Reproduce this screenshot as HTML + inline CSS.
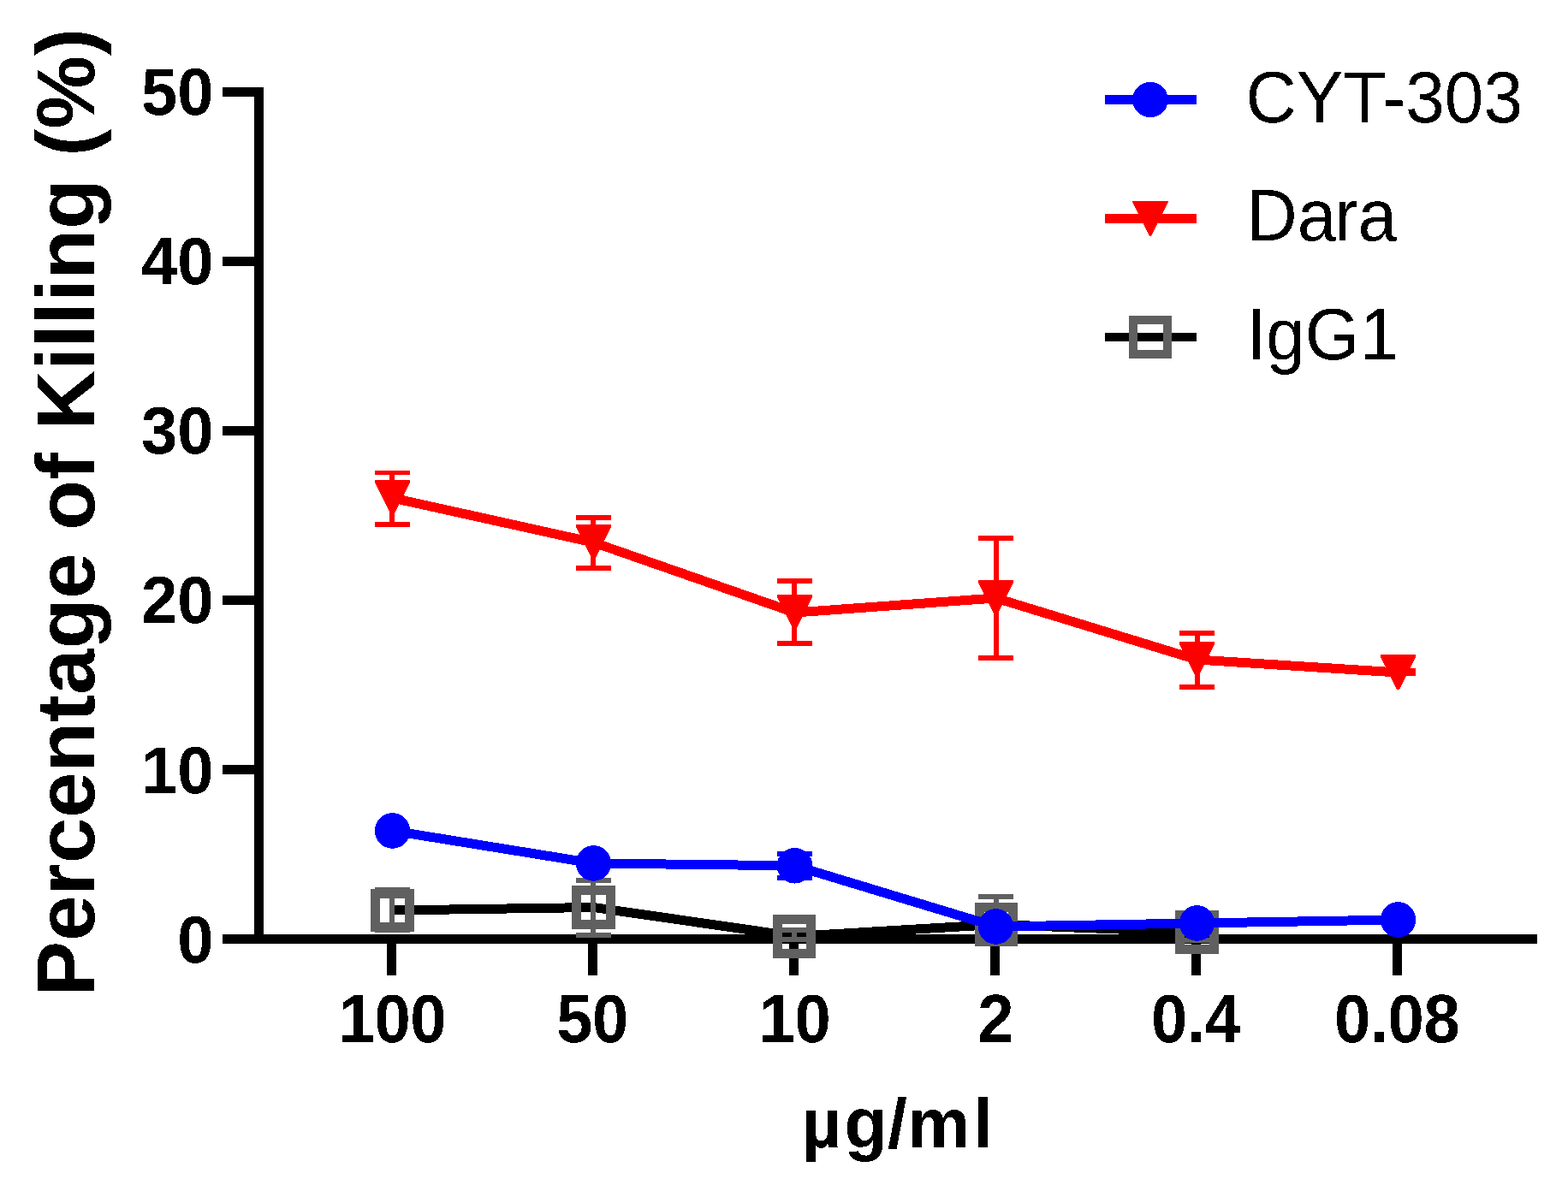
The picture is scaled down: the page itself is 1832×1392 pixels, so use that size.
<!DOCTYPE html>
<html lang="en">
<head>
<meta charset="utf-8">
<title>Percentage of Killing</title>
<style>
html,body{margin:0;padding:0;background:#fff;}
body{width:1832px;height:1392px;overflow:hidden;}
svg{display:block;}
</style>
</head>
<body>
<svg width="1832" height="1392" viewBox="0 0 1832 1392">
<rect width="1832" height="1392" fill="#ffffff"/>
<g shape-rendering="crispEdges">
<rect x="297" y="102" width="11" height="1001" fill="#000000"/>
<rect x="260" y="1092" width="1536" height="11" fill="#000000"/>
<rect x="260" y="894" width="48" height="11" fill="#000000"/>
<rect x="260" y="696" width="48" height="11" fill="#000000"/>
<rect x="260" y="498" width="48" height="11" fill="#000000"/>
<rect x="260" y="300" width="48" height="11" fill="#000000"/>
<rect x="260" y="102" width="48" height="11" fill="#000000"/>
<rect x="452" y="1103" width="11" height="37" fill="#000000"/>
<rect x="687" y="1103" width="11" height="37" fill="#000000"/>
<rect x="922" y="1103" width="11" height="37" fill="#000000"/>
<rect x="1157" y="1103" width="11" height="37" fill="#000000"/>
<rect x="1392" y="1103" width="11" height="37" fill="#000000"/>
<rect x="1627" y="1103" width="11" height="37" fill="#000000"/>
<polyline points="458.5,1064 693.5,1060.5 928.5,1094.4 1163.5,1080.5 1398.5,1089.5" fill="none" stroke="#000000" stroke-width="11" stroke-linejoin="round" stroke-linecap="butt"/>
<rect x="455" y="1037" width="6" height="53" fill="#606060"/>
<rect x="438" y="1037" width="41" height="6" fill="#606060"/>
<rect x="438" y="1084" width="41" height="6" fill="#606060"/>
<rect x="690" y="1026" width="6" height="70" fill="#606060"/>
<rect x="673" y="1026" width="41" height="6" fill="#606060"/>
<rect x="673" y="1090" width="41" height="6" fill="#606060"/>
<rect x="925" y="1084" width="6" height="17" fill="#606060"/>
<rect x="908" y="1084" width="41" height="6" fill="#606060"/>
<rect x="908" y="1095" width="41" height="6" fill="#606060"/>
<rect x="1161" y="1045" width="6" height="40" fill="#606060"/>
<rect x="1143" y="1045" width="41" height="6" fill="#606060"/>
<rect x="1396" y="1077" width="6" height="25" fill="#606060"/>
<rect x="1378" y="1077" width="41" height="6" fill="#606060"/>
<rect x="1378" y="1096" width="41" height="6" fill="#606060"/>
<rect x="438.5" y="1044.5" width="40" height="39" fill="none" stroke="#606060" stroke-width="11"/>
<rect x="673.5" y="1040.5" width="40" height="40" fill="none" stroke="#606060" stroke-width="11"/>
<rect x="908.5" y="1074.5" width="39" height="40" fill="none" stroke="#606060" stroke-width="11"/>
<rect x="1144.5" y="1060.5" width="39" height="40" fill="none" stroke="#606060" stroke-width="11"/>
<rect x="1378.5" y="1069.5" width="40" height="40" fill="none" stroke="#606060" stroke-width="11"/>
<polyline points="458.5,582 693.5,634 928.5,716 1163.5,699 1398.5,771 1633.5,786" fill="none" stroke="#ff0000" stroke-width="11" stroke-linejoin="round" stroke-linecap="butt"/>
<rect x="455" y="550" width="6" height="66" fill="#ff0000"/>
<rect x="438" y="550" width="41" height="5" fill="#ff0000"/>
<rect x="438" y="610" width="41" height="6" fill="#ff0000"/>
<rect x="690" y="602" width="6" height="65" fill="#ff0000"/>
<rect x="673" y="602" width="41" height="6" fill="#ff0000"/>
<rect x="673" y="661" width="41" height="6" fill="#ff0000"/>
<rect x="925" y="676" width="6" height="79" fill="#ff0000"/>
<rect x="908" y="676" width="41" height="6" fill="#ff0000"/>
<rect x="908" y="749" width="41" height="6" fill="#ff0000"/>
<rect x="1161" y="626" width="6" height="146" fill="#ff0000"/>
<rect x="1143" y="626" width="41" height="6" fill="#ff0000"/>
<rect x="1143" y="766" width="41" height="6" fill="#ff0000"/>
<rect x="1396" y="737" width="6" height="69" fill="#ff0000"/>
<rect x="1378" y="737" width="41" height="6" fill="#ff0000"/>
<rect x="1378" y="800" width="41" height="6" fill="#ff0000"/>
<rect x="1613" y="781" width="41" height="9" fill="#ff0000"/>
<polygon points="438,561 479,561 479,563.5 460,602 457,602 438,563.5" fill="#ff0000"/>
<polygon points="673,613 714,613 714,615.5 695,654 692,654 673,615.5" fill="#ff0000"/>
<polygon points="908,695 949,695 949,697.5 930,736 927,736 908,697.5" fill="#ff0000"/>
<polygon points="1143,678 1184,678 1184,680.5 1165,719 1162,719 1143,680.5" fill="#ff0000"/>
<polygon points="1378,750 1419,750 1419,752.5 1400,791 1397,791 1378,752.5" fill="#ff0000"/>
<polygon points="1613,765 1654,765 1654,767.5 1635,806 1632,806 1613,767.5" fill="#ff0000"/>
<polyline points="458.5,971 693.5,1009 928.5,1011.8 1163.5,1083 1398.5,1079 1633.5,1075" fill="none" stroke="#0000ff" stroke-width="11" stroke-linejoin="round" stroke-linecap="butt"/>
<rect x="925" y="995" width="6" height="34" fill="#0000ff"/>
<rect x="908" y="995" width="41" height="6" fill="#0000ff"/>
<rect x="908" y="1023" width="41" height="6" fill="#0000ff"/>
<circle cx="458.5" cy="971" r="20.8" fill="#0000ff"/>
<circle cx="693.5" cy="1009" r="20.8" fill="#0000ff"/>
<circle cx="928.5" cy="1011.8" r="20.8" fill="#0000ff"/>
<circle cx="1163.5" cy="1083" r="20.8" fill="#0000ff"/>
<circle cx="1398.5" cy="1079" r="20.8" fill="#0000ff"/>
<circle cx="1633.5" cy="1075" r="20.8" fill="#0000ff"/>
<rect x="1291" y="111" width="107" height="11" fill="#0000ff"/>
<circle cx="1344" cy="116.5" r="20.8" fill="#0000ff"/>
<rect x="1291" y="250" width="107" height="11" fill="#ff0000"/>
<polygon points="1322.8,235 1365.2,235 1365.2,235.5 1344.8,276.2 1343.2,276.2 1322.8,235.5" fill="#ff0000"/>
<rect x="1291" y="389" width="107" height="10" fill="#000000"/>
<rect x="1324" y="374" width="40" height="40" fill="none" stroke="#606060" stroke-width="10"/>
</g>
<defs><filter id="crisp" x="0" y="0" width="100%" height="100%" filterUnits="userSpaceOnUse" primitiveUnits="userSpaceOnUse" color-interpolation-filters="sRGB"><feComponentTransfer><feFuncA type="discrete" tableValues="0 1"/></feComponentTransfer></filter></defs>
<g font-family="'Liberation Sans', sans-serif" fill="#000" filter="url(#crisp)">
<text transform="translate(249.6 1125) scale(1 1.035)" font-size="76" font-weight="bold" text-anchor="end">0</text>
<text transform="translate(249.6 926.5) scale(1 1.035)" font-size="76" font-weight="bold" text-anchor="end">10</text>
<text transform="translate(249.6 728) scale(1 1.035)" font-size="76" font-weight="bold" text-anchor="end">20</text>
<text transform="translate(249.6 530) scale(1 1.035)" font-size="76" font-weight="bold" text-anchor="end">30</text>
<text transform="translate(249.6 332) scale(1 1.035)" font-size="76" font-weight="bold" text-anchor="end">40</text>
<text transform="translate(249.6 134) scale(1 1.035)" font-size="76" font-weight="bold" text-anchor="end">50</text>
<text transform="translate(458.4 1217.9) scale(1 1.04)" font-size="76" font-weight="bold" text-anchor="middle" letter-spacing="-0.4">100</text>
<text transform="translate(692.1 1217.9) scale(1 1.04)" font-size="76" font-weight="bold" text-anchor="middle" letter-spacing="-0.4">50</text>
<text transform="translate(928.4 1217.9) scale(1 1.04)" font-size="76" font-weight="bold" text-anchor="middle" letter-spacing="-0.4">10</text>
<text transform="translate(1163.1 1217.9) scale(1 1.04)" font-size="76" font-weight="bold" text-anchor="middle" letter-spacing="-0.4">2</text>
<text transform="translate(1397.1 1217.9) scale(1 1.04)" font-size="76" font-weight="bold" text-anchor="middle" letter-spacing="-0.4">0.4</text>
<text transform="translate(1632.1 1217.9) scale(1 1.04)" font-size="76" font-weight="bold" text-anchor="middle" letter-spacing="-0.4">0.08</text>
<text x="936.2 986.4 1036.9 1060.2 1136.9" y="1340.7" font-size="82" font-weight="bold">µg/ml</text>
<text transform="translate(110 598.5) rotate(-90)" font-size="96" font-weight="bold" text-anchor="middle">Percentage of Killing (%)</text>
<text transform="translate(1455.5 142.6) scale(1 1.04)" font-size="82" text-anchor="start">CYT-303</text>
<text transform="translate(1456.5 280.9) scale(1 1.03)" x="0 59.2 102.8 130.1" font-size="82">Dara</text>
<text transform="translate(1456.5 419.8) scale(1 1.03)" font-size="82" text-anchor="start">IgG1</text>
</g>
</svg>
</body>
</html>
